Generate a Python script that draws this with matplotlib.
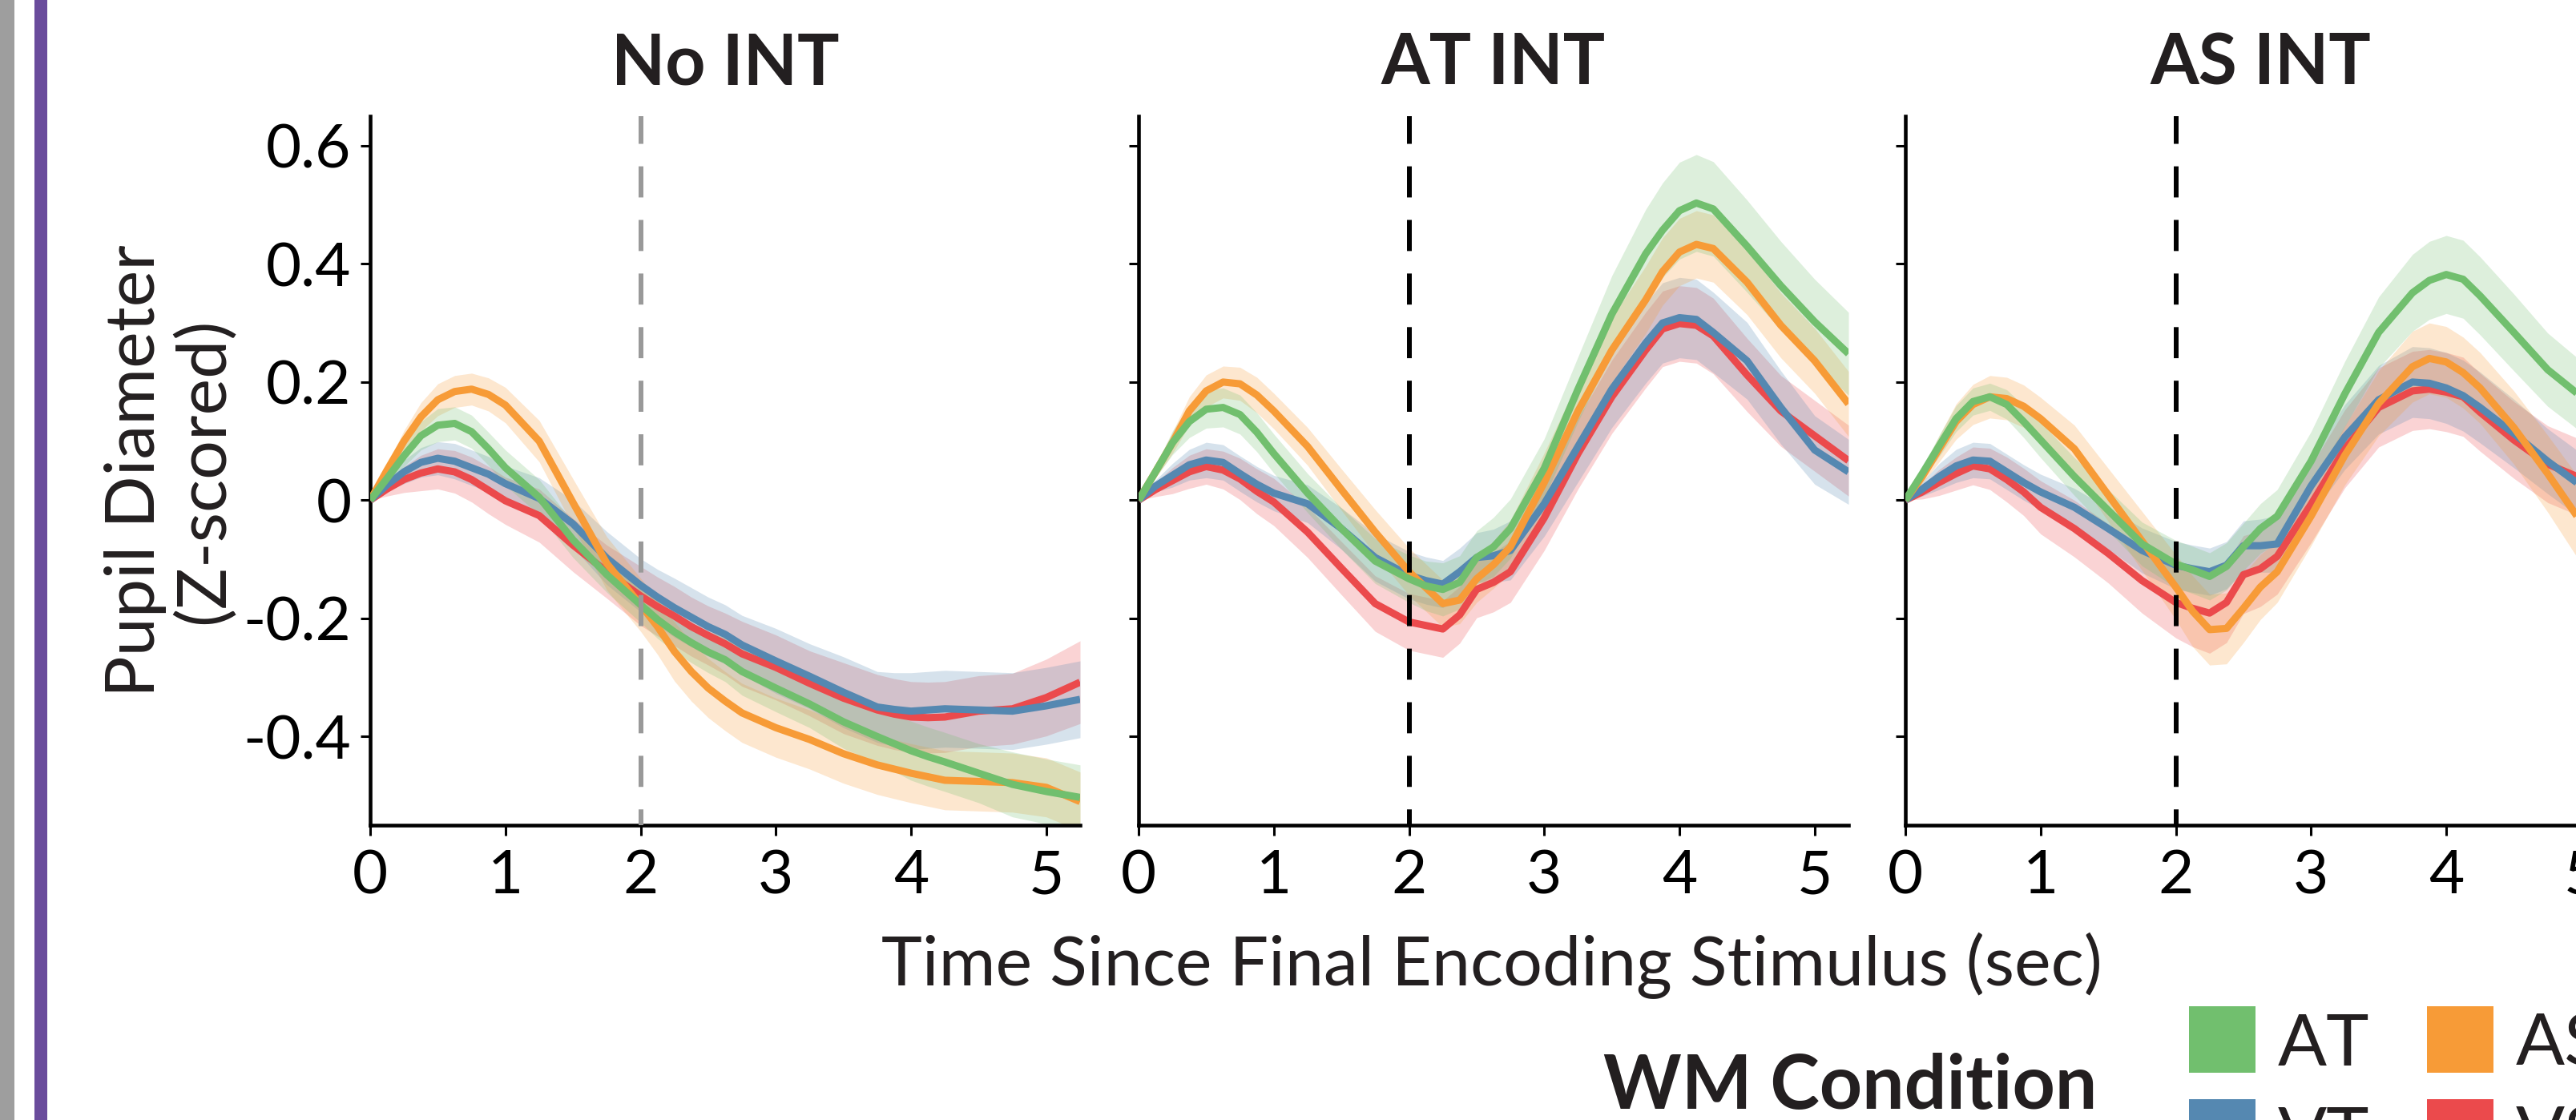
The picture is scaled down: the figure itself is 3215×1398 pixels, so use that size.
import matplotlib
matplotlib.use("Agg")
import matplotlib.pyplot as plt
from matplotlib.patches import Rectangle
import numpy as np

plt.rcParams['font.family'] = ['Lato', 'DejaVu Sans']

W, H, DPI = 3215, 1398, 100

# ---------------- data ----------------
time = [0.0, 0.125, 0.25, 0.375, 0.5, 0.625, 0.75, 0.875, 1.0, 1.25, 1.5, 1.75,
        2.0, 2.125, 2.25, 2.375, 2.5, 2.625, 2.75, 3.0, 3.25, 3.5, 3.75, 3.875,
        4.0, 4.125, 4.25, 4.5, 4.75, 5.0, 5.25]

conditions = ["AT", "AS", "VT", "VS"]
cond_colors = ["#71BF6E", "#F79B37", "#5588B1", "#EB4A4C"]
draw_order = ["VS", "VT", "AS", "AT"]
panel_titles = ["No INT", "AT INT", "AS INT"]
vline_colors = ["#999999", "#000000", "#000000"]

xticks = [0, 1, 2, 3, 4, 5]
xtick_labels = ["0", "1", "2", "3", "4", "5"]
yticks = [-0.4, -0.2, 0.0, 0.2, 0.4, 0.6]
ytick_labels = ["-0.4", "-0.2", "0", "0.2", "0.4", "0.6"]
encoding_end = 2.0

# Panel 1: No INT
noint_AT = [0, 0.037, 0.075, 0.109, 0.127, 0.130, 0.116, 0.087, 0.055, 0.005, -0.067, -0.126,
            -0.177, -0.202, -0.223, -0.241, -0.257, -0.270, -0.290, -0.318, -0.345, -0.375, -0.400, -0.412,
            -0.424, -0.434, -0.443, -0.462, -0.481, -0.493, -0.503]
noint_AS = [0, 0.051, 0.100, 0.141, 0.170, 0.184, 0.188, 0.179, 0.161, 0.100, -0.004, -0.107,
            -0.177, -0.214, -0.256, -0.290, -0.318, -0.340, -0.360, -0.385, -0.405, -0.429, -0.448, -0.455,
            -0.462, -0.468, -0.474, -0.476, -0.478, -0.486, -0.510]
noint_VT = [0, 0.026, 0.048, 0.064, 0.071, 0.066, 0.055, 0.044, 0.028, 0.003, -0.040, -0.098,
            -0.144, -0.164, -0.182, -0.198, -0.214, -0.227, -0.245, -0.272, -0.298, -0.325, -0.350, -0.354,
            -0.357, -0.355, -0.353, -0.355, -0.357, -0.348, -0.337]
noint_VS = [0, 0.019, 0.035, 0.046, 0.053, 0.048, 0.035, 0.017, -0.001, -0.026, -0.076, -0.121,
            -0.162, -0.180, -0.196, -0.214, -0.229, -0.243, -0.260, -0.283, -0.310, -0.335, -0.355, -0.362,
            -0.367, -0.368, -0.367, -0.357, -0.353, -0.334, -0.308]
noint_AT_sem = [0, 0.01, 0.018, 0.024, 0.028, 0.028, 0.028, 0.028, 0.03, 0.03, 0.03, 0.03,
                0.03, 0.032, 0.033, 0.034, 0.035, 0.037, 0.04, 0.04, 0.04, 0.045, 0.045, 0.047,
                0.05, 0.05, 0.05, 0.05, 0.055, 0.055, 0.055]
noint_AS_sem = [0, 0.01, 0.018, 0.024, 0.027, 0.027, 0.027, 0.028, 0.03, 0.035, 0.04, 0.045,
                0.045, 0.047, 0.05, 0.05, 0.05, 0.05, 0.05, 0.05, 0.05, 0.05, 0.05, 0.05,
                0.05, 0.05, 0.05, 0.05, 0.05, 0.05, 0.05]
noint_VT_sem = [0, 0.01, 0.02, 0.025, 0.028, 0.03, 0.03, 0.03, 0.03, 0.035, 0.04, 0.045,
                0.045, 0.047, 0.05, 0.05, 0.05, 0.05, 0.05, 0.055, 0.055, 0.06, 0.06, 0.062,
                0.065, 0.065, 0.065, 0.065, 0.065, 0.065, 0.065]
noint_VS_sem = [0, 0.012, 0.022, 0.03, 0.034, 0.036, 0.038, 0.04, 0.04, 0.045, 0.045, 0.045,
                0.05, 0.05, 0.05, 0.05, 0.05, 0.052, 0.055, 0.055, 0.055, 0.06, 0.06, 0.06,
                0.06, 0.06, 0.06, 0.06, 0.06, 0.065, 0.07]

# Panel 2: AT INT
atint_AT = [0, 0.048, 0.097, 0.133, 0.154, 0.157, 0.145, 0.115, 0.079, 0.012, -0.048, -0.103,
            -0.133, -0.145, -0.151, -0.139, -0.097, -0.079, -0.048, 0.054, 0.188, 0.315, 0.417, 0.457,
            0.490, 0.503, 0.493, 0.430, 0.363, 0.302, 0.248]
atint_AS = [0, 0.048, 0.097, 0.151, 0.185, 0.200, 0.197, 0.178, 0.151, 0.091, 0.018, -0.054,
            -0.121, -0.148, -0.175, -0.169, -0.133, -0.109, -0.079, 0.030, 0.151, 0.254, 0.339, 0.387,
            0.420, 0.433, 0.426, 0.369, 0.296, 0.236, 0.163]
atint_VT = [0, 0.024, 0.042, 0.060, 0.068, 0.064, 0.045, 0.027, 0.012, -0.006, -0.048, -0.097,
            -0.127, -0.136, -0.142, -0.121, -0.097, -0.094, -0.085, -0.006, 0.091, 0.188, 0.266, 0.300,
            0.309, 0.306, 0.284, 0.236, 0.157, 0.085, 0.048]
atint_VS = [0, 0.018, 0.033, 0.048, 0.057, 0.051, 0.036, 0.015, -0.003, -0.054, -0.115, -0.175,
            -0.206, -0.212, -0.218, -0.194, -0.151, -0.139, -0.121, -0.030, 0.079, 0.175, 0.254, 0.290,
            0.299, 0.296, 0.278, 0.212, 0.151, 0.109, 0.067]
atint_AT_sem = [0, 0.01, 0.02, 0.027, 0.032, 0.033, 0.033, 0.033, 0.033, 0.033, 0.035, 0.038,
                0.04, 0.042, 0.045, 0.045, 0.045, 0.05, 0.05, 0.05, 0.055, 0.065, 0.075, 0.08,
                0.082, 0.082, 0.08, 0.078, 0.075, 0.072, 0.07]
atint_AS_sem = [0, 0.01, 0.018, 0.024, 0.027, 0.027, 0.028, 0.03, 0.03, 0.032, 0.035, 0.038,
                0.04, 0.04, 0.04, 0.04, 0.04, 0.04, 0.045, 0.05, 0.05, 0.055, 0.057, 0.057,
                0.057, 0.057, 0.057, 0.055, 0.055, 0.055, 0.055]
atint_VT_sem = [0, 0.01, 0.02, 0.026, 0.03, 0.03, 0.03, 0.03, 0.03, 0.032, 0.035, 0.04,
                0.04, 0.04, 0.04, 0.04, 0.042, 0.045, 0.05, 0.055, 0.06, 0.065, 0.068, 0.068,
                0.068, 0.068, 0.068, 0.065, 0.062, 0.058, 0.055]
atint_VS_sem = [0, 0.012, 0.022, 0.028, 0.03, 0.032, 0.035, 0.038, 0.04, 0.043, 0.045, 0.047,
                0.048, 0.048, 0.048, 0.048, 0.048, 0.05, 0.052, 0.055, 0.06, 0.062, 0.064, 0.064,
                0.064, 0.064, 0.064, 0.062, 0.06, 0.06, 0.06]

# Panel 3: AS INT
asint_AT = [0, 0.045, 0.092, 0.138, 0.167, 0.175, 0.162, 0.133, 0.102, 0.040, -0.017, -0.074,
            -0.108, -0.118, -0.129, -0.112, -0.079, -0.048, -0.027, 0.066, 0.180, 0.284, 0.351, 0.372,
            0.382, 0.374, 0.346, 0.284, 0.221, 0.175, 0.140]
asint_AS = [0, 0.040, 0.087, 0.133, 0.162, 0.175, 0.172, 0.159, 0.138, 0.087, 0.009, -0.069,
            -0.147, -0.188, -0.219, -0.217, -0.183, -0.147, -0.121, -0.027, 0.076, 0.164, 0.226, 0.240,
            0.234, 0.216, 0.190, 0.123, 0.045, -0.038, -0.100]
asint_VT = [0, 0.019, 0.040, 0.058, 0.068, 0.066, 0.048, 0.030, 0.014, -0.012, -0.048, -0.085,
            -0.110, -0.116, -0.121, -0.110, -0.077, -0.077, -0.074, 0.024, 0.107, 0.170, 0.200, 0.198,
            0.190, 0.177, 0.157, 0.113, 0.066, 0.024, 0.000]
asint_VS = [0, 0.014, 0.030, 0.045, 0.058, 0.053, 0.035, 0.014, -0.012, -0.048, -0.090, -0.136,
            -0.173, -0.183, -0.191, -0.173, -0.126, -0.116, -0.095, -0.007, 0.087, 0.157, 0.185, 0.188,
            0.183, 0.175, 0.149, 0.102, 0.061, 0.037, 0.020]
asint_AT_sem = [0, 0.01, 0.018, 0.022, 0.023, 0.023, 0.025, 0.027, 0.03, 0.032, 0.035, 0.037,
                0.04, 0.04, 0.04, 0.04, 0.04, 0.042, 0.045, 0.05, 0.055, 0.06, 0.065, 0.066,
                0.066, 0.066, 0.066, 0.065, 0.062, 0.06, 0.058]
asint_AS_sem = [0, 0.012, 0.022, 0.03, 0.034, 0.036, 0.036, 0.036, 0.036, 0.04, 0.045, 0.05,
                0.055, 0.06, 0.06, 0.06, 0.058, 0.055, 0.052, 0.05, 0.05, 0.055, 0.06, 0.06,
                0.06, 0.06, 0.06, 0.062, 0.065, 0.07, 0.07]
asint_VT_sem = [0, 0.012, 0.022, 0.028, 0.03, 0.03, 0.03, 0.03, 0.03, 0.032, 0.035, 0.038,
                0.04, 0.04, 0.04, 0.04, 0.042, 0.045, 0.048, 0.05, 0.055, 0.058, 0.06, 0.06,
                0.06, 0.06, 0.06, 0.058, 0.055, 0.055, 0.055]
asint_VS_sem = [0, 0.012, 0.022, 0.028, 0.032, 0.035, 0.038, 0.04, 0.045, 0.048, 0.05, 0.055,
                0.06, 0.065, 0.068, 0.068, 0.066, 0.064, 0.064, 0.065, 0.066, 0.067, 0.067, 0.067,
                0.067, 0.067, 0.066, 0.065, 0.065, 0.065, 0.065]

panel_means = [
    {"AT": noint_AT, "AS": noint_AS, "VT": noint_VT, "VS": noint_VS},
    {"AT": atint_AT, "AS": atint_AS, "VT": atint_VT, "VS": atint_VS},
    {"AT": asint_AT, "AS": asint_AS, "VT": asint_VT, "VS": asint_VS},
]
panel_sems = [
    {"AT": noint_AT_sem, "AS": noint_AS_sem, "VT": noint_VT_sem, "VS": noint_VS_sem},
    {"AT": atint_AT_sem, "AS": atint_AS_sem, "VT": atint_VT_sem, "VS": atint_VS_sem},
    {"AT": asint_AT_sem, "AS": asint_AS_sem, "VT": asint_VT_sem, "VS": asint_VS_sem},
]

xlim = (0, 5.25)
ylim = (-0.55, 0.65)

# ---------------- layout (pixels) ----------------
def fx(px):
    return px / W

def fy(py):
    return 1 - py / H

ax_left_px = [462, 1421, 2378]
ax_width_px = 886
ax_top_px, ax_bot_px = 145, 1030

fig = plt.figure(figsize=(W / DPI, H / DPI), dpi=DPI)
fig.patch.set_facecolor("white")

# left decoration bars (part of the larger figure)
fig.patches.append(Rectangle((0, 0), fx(18), 1, transform=fig.transFigure,
                             facecolor="#9E9E9E", edgecolor="none"))
fig.patches.append(Rectangle((fx(43), 0), fx(16), 1, transform=fig.transFigure,
                             facecolor="#6A4C9C", edgecolor="none"))

cmap = dict(zip(conditions, cond_colors))
tick_fs = 55
lab_fs = 62

for i in range(3):
    ax = fig.add_axes([fx(ax_left_px[i]), fy(ax_bot_px), ax_width_px / W,
                       (ax_bot_px - ax_top_px) / H])
    t = np.array(time)
    for c in draw_order:
        m = np.array(panel_means[i][c])
        s = np.array(panel_sems[i][c])
        ax.fill_between(t, m - s, m + s, color=cmap[c], alpha=0.24, lw=0, zorder=1)
    for c in draw_order:
        m = np.array(panel_means[i][c])
        ax.plot(t, m, color=cmap[c], lw=6.5, solid_joinstyle="round",
                solid_capstyle="butt", zorder=3)
    ax.axvline(encoding_end, color=vline_colors[i], lw=4.3,
               linestyle=(3.2, (6.5, 4.7)), zorder=4)
    ax.set_xlim(*xlim)
    ax.set_ylim(*ylim)
    ax.set_xticks(xticks)
    ax.set_xticklabels(xtick_labels)
    ax.set_yticks(yticks)
    if i == 0:
        ax.set_yticklabels(ytick_labels)
    else:
        ax.set_yticklabels([])
    for sp in ["top", "right"]:
        ax.spines[sp].set_visible(False)
    for sp in ["left", "bottom"]:
        ax.spines[sp].set_linewidth(3.3)
        ax.spines[sp].set_color("black")
    ax.tick_params(axis="both", direction="out", length=9, width=2.2,
                   labelsize=tick_fs, colors="black")
    ax.tick_params(axis="x", pad=12)
    ax.tick_params(axis="y", pad=8)
    ax.text(0.5, 1 + 40 / (ax_bot_px - ax_top_px), panel_titles[i],
            transform=ax.transAxes, ha="center", va="baseline",
            fontsize=63, fontweight="bold", color="#231F20")

# axis labels
fig.text(fx(1862), fy(1230), "Time Since Final Encoding Stimulus (sec)",
         ha="center", va="baseline", fontsize=lab_fs, color="#231F20")
fig.text(fx(212), fy((ax_top_px + ax_bot_px) / 2), "Pupil Diameter\n(Z-scored)",
         rotation=90, ha="center", va="center", fontsize=lab_fs,
         linespacing=1.1, multialignment="center", color="#231F20")

# legend
fig.text(fx(2617), fy(1384), "WM Condition", ha="right", va="baseline",
         fontsize=67, fontweight="bold", color="#231F20")
leg_col_px = [2732, 3029]
leg_row_px = [1256, 1372]
sq = 83
for k, (c, col) in enumerate(zip(conditions, cond_colors)):
    r, cidx = divmod(k, 2)
    x0 = leg_col_px[cidx]
    y0 = leg_row_px[r]
    fig.patches.append(Rectangle((fx(x0), fy(y0 + sq)), sq / W, sq / H,
                                 transform=fig.transFigure, facecolor=col,
                                 edgecolor="none"))
    fig.text(fx(x0 + 111), fy(y0 + 74), c, ha="left", va="baseline",
             fontsize=65, color="#231F20")

fig.savefig("out.png", dpi=DPI)
